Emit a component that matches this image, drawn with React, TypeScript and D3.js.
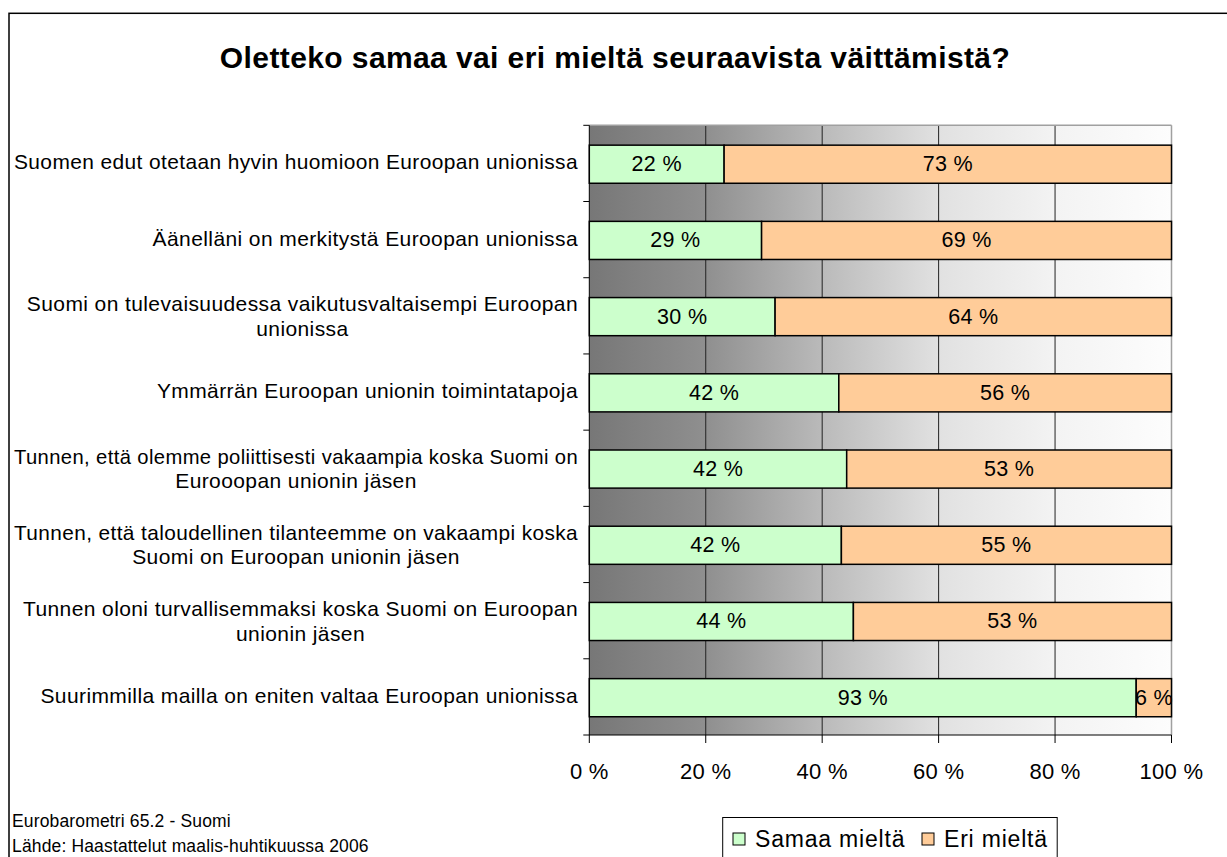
import React from "react";
import * as d3 from "d3";

const title = "Oletteko samaa vai eri mieltä seuraavista väittämistä?";
const categories = [
  "Suomen edut otetaan hyvin huomioon Euroopan unionissa",
  "Äänelläni on merkitystä Euroopan unionissa",
  "Suomi on tulevaisuudessa vaikutusvaltaisempi Euroopan\nunionissa",
  "Ymmärrän Euroopan unionin toimintatapoja",
  "Tunnen, että olemme poliittisesti vakaampia koska Suomi on\nEurooopan unionin jäsen",
  "Tunnen, että taloudellinen tilanteemme on vakaampi koska\nSuomi on Euroopan unionin jäsen",
  "Tunnen oloni turvallisemmaksi koska Suomi on Euroopan\nunionin jäsen",
  "Suurimmilla mailla on eniten valtaa Euroopan unionissa",
];
const agree = [22, 29, 30, 42, 42, 42, 44, 93];
const disagree = [73, 69, 64, 56, 53, 55, 53, 6];
const seriesNames = ["Samaa mieltä", "Eri mieltä"];
const seriesColors = ["#CCFFCC", "#FFCC99"];
const xTicks = [0, 0.2, 0.4, 0.6, 0.8, 1];
const footnotes = ["Eurobarometri 65.2 - Suomi", "Lähde: Haastattelut maalis-huhtikuussa 2006"];

const FONT = "Arial, 'Liberation Sans', sans-serif";
const CAT_FS = 21;
const CAT_LS = 0.4;
const MAX_LABEL_W = 564;

export default function App() {
  const W = 1227, H = 857;
  const left = 589.3, right = 1171.5, top = 125.3, bottom = 735;

  const x = d3.scaleLinear().domain([0, 1]).range([left, right]);
  const y = d3.scaleBand<string>().domain(categories).range([top, bottom]).padding(0);
  const bh = y.bandwidth() * 0.5;

  const rows = categories.map((c, i) => ({ cat: c, s0: agree[i], s1: disagree[i] }));
  const stacked = d3.stack<any>().keys(["s0", "s1"]).offset(d3.stackOffsetExpand)(rows);

  const rawVals = [agree, disagree];

  return (
    <svg width={W} height={H} style={{ position: "absolute", left: 0, top: 0 }} fontFamily={FONT}>
      <defs>
        <linearGradient id="bg" x1="0" x2="1" y1="0" y2="0">
          <stop offset="0" stopColor="#777777" />
          <stop offset="0.2" stopColor="#8f8f8f" />
          <stop offset="0.4" stopColor="#bababa" />
          <stop offset="0.6" stopColor="#e1e1e1" />
          <stop offset="0.8" stopColor="#f3f3f3" />
          <stop offset="1" stopColor="#fdfdfd" />
        </linearGradient>
      </defs>
      <rect x={0} y={0} width={W} height={H} fill="#fff" />
      <rect x={9} y={13.3} width={1400} height={1000} fill="none" stroke="#000" strokeWidth={1.5} />

      <text x={615} y={68} textAnchor="middle" fontSize={30} fontWeight="bold" letterSpacing={0.4}>{title}</text>

      {/* plot background */}
      <rect x={left} y={top} width={right - left} height={bottom - top} fill="url(#bg)" />
      {xTicks.slice(1, -1).map((t) => (
        <line key={t} x1={x(t)} x2={x(t)} y1={top} y2={bottom} stroke="#222" strokeWidth={1} />
      ))}
      <line x1={left} x2={right} y1={top} y2={top} stroke="#a0a0a0" strokeWidth={1.5} />
      <line x1={right} x2={right} y1={top} y2={bottom} stroke="#a0a0a0" strokeWidth={1.5} />

      {/* bars */}
      {stacked.map((s, si) =>
        s.map((d, i) => {
          const cy = (y(categories[i]) as number) + y.bandwidth() / 2 + 0.8;
          return (
            <rect key={si + "-" + i} x={x(d[0])} y={cy - bh / 2} width={x(d[1]) - x(d[0])} height={bh}
              fill={seriesColors[si]} stroke="#000" strokeWidth={1.5} />
          );
        })
      )}
      {stacked.map((s, si) =>
        s.map((d, i) => {
          const cy = (y(categories[i]) as number) + y.bandwidth() / 2 + 0.8;
          return (
            <text key={"t" + si + "-" + i} x={(x(d[0]) + x(d[1])) / 2} y={cy + 7} textAnchor="middle" fontSize={21.5} letterSpacing={0.3}>
              {rawVals[si][i] + " %"}
            </text>
          );
        })
      )}

      {/* axes */}
      <line x1={left} x2={left} y1={top} y2={bottom} stroke="#000" strokeWidth={1} />
      <line x1={left} x2={right} y1={bottom} y2={bottom} stroke="#000" strokeWidth={1} />
      {d3.range(categories.length + 1).map((k) => {
        const yy = top + k * y.step();
        return <line key={"yt" + k} x1={left - 6} x2={left} y1={yy} y2={yy} stroke="#000" strokeWidth={1} />;
      })}
      {xTicks.map((t) => (
        <g key={"xt" + t}>
          <line x1={x(t)} x2={x(t)} y1={bottom} y2={bottom + 8} stroke="#000" strokeWidth={1} />
          <text x={x(t)} y={779} textAnchor="middle" fontSize={22} letterSpacing={0.3}>{Math.round(t * 100) + " %"}</text>
        </g>
      ))}

      {/* category labels */}
      {categories.map((c) => {
        const cy = (y(c) as number) + y.bandwidth() / 2;
        return <LabelBlock key={c} lines={c.split("\n")} rx={578} cy={cy} />;
      })}

      {/* footnotes */}
      {footnotes.map((f, i) => (
        <text key={f} x={12} y={826.5 + i * 25} fontSize={17.5} letterSpacing={0.15}>{f}</text>
      ))}

      {/* legend */}
      <rect x={722.7} y={817.5} width={334.5} height={60} fill="#fff" stroke="#000" strokeWidth={1} />
      {seriesNames.map((n, i) => {
        const lx = [733, 922][i];
        return (
          <g key={n}>
            <rect x={lx} y={833} width={12} height={12} fill={seriesColors[i]} stroke="#000" strokeWidth={1} />
            <text x={lx + 22} y={847} fontSize={23} letterSpacing={0.8}>{n}</text>
          </g>
        );
      })}
    </svg>
  );
}

function LabelBlock({ lines, rx, cy }: { lines: string[]; rx: number; cy: number }) {
  const ref = React.useRef<SVGGElement>(null);
  const [widths, setWidths] = React.useState<number[]>(lines.map(() => 0));
  React.useLayoutEffect(() => {
    if (!ref.current) return;
    const texts = Array.from(ref.current.querySelectorAll("text")) as SVGTextElement[];
    setWidths(texts.map((t) => t.getComputedTextLength()));
  }, []);
  const fitted = widths.map((w) => Math.min(w, MAX_LABEL_W));
  const blockW = Math.max(...fitted);
  const cx = rx - blockW / 2;
  const single = lines.length === 1;
  const y0 = single ? cy + 6 : cy - 4.5;
  return (
    <g ref={ref}>
      {lines.map((l, i) => {
        const over = widths[i] > MAX_LABEL_W;
        return (
          <text key={i} x={single ? rx : cx} y={y0 + i * 24.5} textAnchor={single ? "end" : "middle"}
            fontSize={CAT_FS} letterSpacing={CAT_LS}
            {...(over ? { textLength: MAX_LABEL_W, lengthAdjust: "spacingAndGlyphs" } : {})}>
            {l}
          </text>
        );
      })}
    </g>
  );
}
